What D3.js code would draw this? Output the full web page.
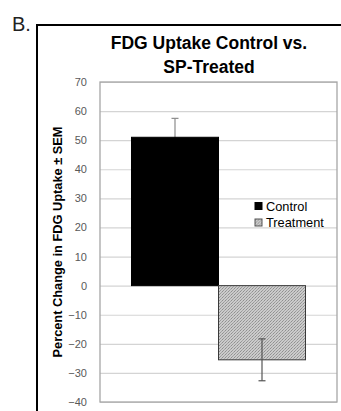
<!DOCTYPE html>
<html>
<head>
<meta charset="utf-8">
<script src="https://cdn.jsdelivr.net/npm/d3@7"></script>
<style>
  body { margin: 0; background: #fff; }
  svg { display: block; }
  text { font-family: "Liberation Sans", Arial, sans-serif; }
</style>
</head>
<body>
<div id="chart"></div>
<script>
// data
var series = ["Control", "Treatment"];
var values = [51, -25.5];
var sem = [6.5, 7.2];
var yDomain = [-40, 70];
var titleLines = ["FDG Uptake Control vs.", "SP-Treated"];
var yTitle = "Percent Change in FDG Uptake \u00b1 SEM";

var w = 341, h = 411;
var plot = {left: 100, right: 337, top: 82, bottom: 402};

var svg = d3.select("#chart").append("svg")
  .attr("width", w)
  .attr("height", h);

// fine dotted texture for the treatment bar
var defs = svg.append("defs");
var pat = defs.append("pattern")
  .attr("id", "hatch")
  .attr("patternUnits", "userSpaceOnUse")
  .attr("width", 3)
  .attr("height", 3);
pat.append("rect").attr("width", 3).attr("height", 3).attr("fill", "#cbcbcb");
pat.append("rect").attr("x", 0).attr("y", 0).attr("width", 1).attr("height", 1).attr("fill", "#8f8f8f");
pat.append("rect").attr("x", 1).attr("y", 2).attr("width", 1).attr("height", 1).attr("fill", "#9a9a9a");
pat.append("rect").attr("x", 2).attr("y", 1).attr("width", 1).attr("height", 1).attr("fill", "#a5a5a5");

// panel letter + outer frame
svg.append("text")
  .attr("x", 12)
  .attr("y", 31)
  .attr("font-size", 20)
  .attr("fill", "#222")
  .text("B.");

svg.append("path")
  .attr("d", "M37," + h + " V25 H" + w)
  .attr("fill", "none")
  .attr("stroke", "#000")
  .attr("stroke-width", 2);

// title
svg.selectAll(".title")
  .data(titleLines)
  .enter()
  .append("text")
  .attr("class", "title")
  .attr("x", 209)
  .attr("y", function(d, i) { return 49 + i * 24; })
  .attr("text-anchor", "middle")
  .attr("font-size", 17.5)
  .attr("font-weight", "bold")
  .attr("fill", "#000")
  .text(function(d) { return d; });

// scales
var yScale = d3.scaleLinear().domain(yDomain).range([plot.bottom, plot.top]);
var xScale = d3.scaleBand()
  .domain(series)
  .range([plot.left, plot.right])
  .paddingInner(0)
  .paddingOuter(0.362);

// gridlines
var yAxis = d3.axisLeft(yScale)
  .tickValues(d3.range(yDomain[0], yDomain[1] + 1, 10))
  .tickSize(-(plot.right - plot.left))
  .tickPadding(13);

var gy = svg.append("g")
  .attr("transform", "translate(" + plot.left + ",0)")
  .call(yAxis);
gy.select(".domain").remove();
gy.selectAll(".tick line")
  .attr("stroke", "#d4d4d4")
  .attr("stroke-width", 1.2);
gy.selectAll(".tick text")
  .attr("fill", "#595959")
  .attr("font-size", 11);

// plot border
svg.append("rect")
  .attr("x", plot.left)
  .attr("y", plot.top)
  .attr("width", plot.right - plot.left)
  .attr("height", plot.bottom - plot.top)
  .attr("fill", "none")
  .attr("stroke", "#a6a6a6")
  .attr("stroke-width", 1.3);

// error bars: the control one sits behind its bar (only the upper arm shows)
var errColor = ["#8c8c8c", "#555"];
function drawErr(i, layer) {
  var s = series[i];
  var cx = xScale(s) + xScale.bandwidth() / 2;
  var hi = yScale(values[i] + sem[i]);
  var lo = yScale(values[i] - sem[i]);
  var g = layer.append("g").attr("stroke", errColor[i]).attr("stroke-width", 1.2);
  g.append("line").attr("x1", cx).attr("x2", cx).attr("y1", hi).attr("y2", lo);
  g.append("line").attr("x1", cx - 3.5).attr("x2", cx + 3.5).attr("y1", hi).attr("y2", hi);
  g.append("line").attr("x1", cx - 3.5).attr("x2", cx + 3.5).attr("y1", lo).attr("y2", lo);
}
var backLayer = svg.append("g");

// bars
var fills = ["#000", "url(#hatch)"];
var edges = ["#000", "#3a3a3a"];
svg.selectAll(".bar")
  .data(series)
  .enter()
  .append("rect")
  .attr("class", "bar")
  .attr("x", function(d) { return xScale(d); })
  .attr("width", xScale.bandwidth())
  .attr("y", function(d, i) { return yScale(Math.max(0, values[i])); })
  .attr("height", function(d, i) { return Math.abs(yScale(values[i]) - yScale(0)); })
  .attr("fill", function(d, i) { return fills[i]; })
  .attr("stroke", function(d, i) { return edges[i]; })
  .attr("stroke-width", 1);

var frontLayer = svg.append("g");
drawErr(0, backLayer);
drawErr(1, frontLayer);

// y axis title
svg.append("text")
  .attr("transform", "translate(62," + ((plot.top + plot.bottom) / 2) + ") rotate(-90)")
  .attr("text-anchor", "middle")
  .attr("font-size", 12.8)
  .attr("font-weight", "bold")
  .attr("fill", "#000")
  .text(yTitle);

// legend
var legend = svg.selectAll(".legend")
  .data(series)
  .enter()
  .append("g")
  .attr("class", "legend")
  .attr("transform", function(d, i) { return "translate(255," + (206 + i * 16.5) + ")"; });
legend.append("rect")
  .attr("x", 0)
  .attr("y", -3.5)
  .attr("width", 7)
  .attr("height", 7)
  .attr("fill", function(d, i) { return fills[i]; })
  .attr("stroke", function(d, i) { return i ? "#555" : "#000"; })
  .attr("stroke-width", 1);
legend.append("text")
  .attr("x", 11)
  .attr("y", 4.5)
  .attr("font-size", 12.8)
  .attr("fill", "#000")
  .text(function(d) { return d; });
</script>
</body>
</html>
